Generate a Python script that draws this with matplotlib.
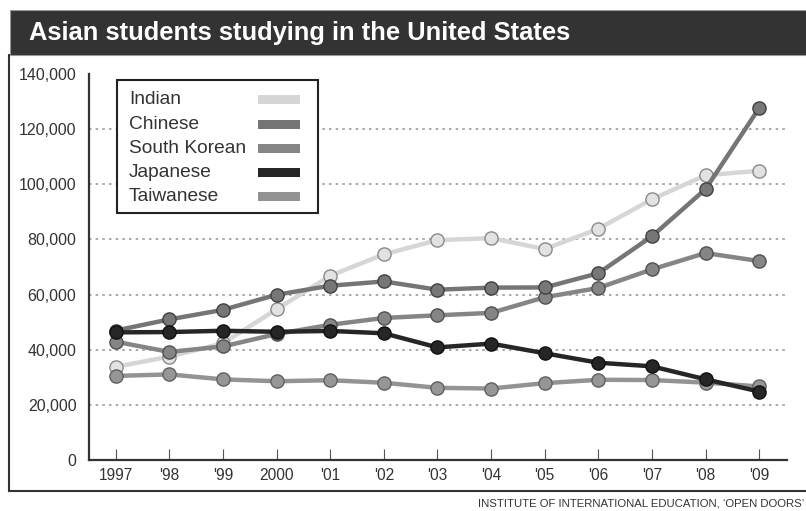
import matplotlib
matplotlib.use("Agg")
import matplotlib.pyplot as plt
from matplotlib.patches import Rectangle
from matplotlib.lines import Line2D

plt.rcParams["font.family"] = ["Liberation Sans", "DejaVu Sans"]

YEARS = ["1997", "'98", "'99", "2000", "'01", "'02", "'03", "'04", "'05", "'06", "'07", "'08", "'09"]

INDIAN = [33818, 37482, 42337, 54664, 66836, 74603, 79736, 80466, 76503, 83833, 94563, 103260, 104897]
CHINESE = [46958, 51001, 54466, 59939, 63211, 64757, 61765, 62523, 62582, 67723, 81127, 98235, 127628]
SOUTH_KOREAN = [42890, 39199, 41191, 45685, 49046, 51519, 52484, 53358, 59022, 62392, 69124, 75065, 72153]
JAPANESE = [46292, 46406, 46872, 46497, 46810, 45960, 40835, 42215, 38712, 35282, 33974, 29264, 24842]
TAIWANESE = [30487, 31043, 29234, 28566, 28930, 28017, 26178, 25914, 27876, 29094, 29001, 28065, 26685]

LABELS = ["Indian", "Chinese", "South Korean", "Japanese", "Taiwanese"]
Y_TICKS = [0, 20000, 40000, 60000, 80000, 100000, 120000, 140000]

# line colour, marker face, marker edge
STYLES = {
    "Indian": ("#d6d6d6", "#e2e2e2", "#8a8a8a"),
    "Chinese": ("#757575", "#777777", "#404040"),
    "South Korean": ("#858585", "#858585", "#505050"),
    "Japanese": ("#262626", "#262626", "#111111"),
    "Taiwanese": ("#939393", "#969696", "#606060"),
}

W, H = 806, 511
fig = plt.figure(figsize=(W / 100, H / 100), dpi=100)


def fx(px):
    return px / W


def fy(py):
    return 1 - py / H


# title bar
fig.patches.append(Rectangle((fx(10), fy(55)), 1, 45 / H, transform=fig.transFigure,
                             facecolor="#333333", edgecolor="#999999", lw=0.8))
fig.text(fx(29), fy(33), "Asian students studying in the United States",
         color="white", fontsize=18.4, fontweight="bold", va="center", ha="left")

# outer frame
fig.add_artist(Line2D([fx(9), fx(9)], [fy(55), fy(491)], transform=fig.transFigure,
                      color="#333333", lw=1.5))
fig.add_artist(Line2D([fx(9), 1], [fy(491), fy(491)], transform=fig.transFigure,
                      color="#333333", lw=1.5))

ax = fig.add_axes([fx(89), fy(460), 698 / W, 386 / H])
x = list(range(len(YEARS)))

series = {
    "Indian": INDIAN,
    "Taiwanese": TAIWANESE,
    "South Korean": SOUTH_KOREAN,
    "Chinese": CHINESE,
    "Japanese": JAPANESE,
}
for z, (name, vals) in enumerate(series.items()):
    lc, fc, ec = STYLES[name]
    ax.plot(x, vals, color=lc, lw=3.2, zorder=3 + z,
            marker="o", markersize=9.5, markerfacecolor=fc,
            markeredgecolor=ec, markeredgewidth=1.0)

ax.set_xlim(-0.5, 12.52)
ax.set_ylim(0, 140000)
ax.set_yticks(Y_TICKS)
ax.set_yticklabels([f"{v:,}" for v in Y_TICKS])
ax.set_xticks(x)
ax.set_xticklabels(YEARS)

for v in Y_TICKS[1:-1]:
    ax.axhline(v, color="#9a9a9a", lw=1.2, ls=(0, (1.5, 2.5)), zorder=1)

for s in ["top", "right"]:
    ax.spines[s].set_visible(False)
for s in ["left", "bottom"]:
    ax.spines[s].set_linewidth(1.6)
    ax.spines[s].set_color("#333333")

ax.tick_params(axis="y", length=0, pad=9, labelsize=11.5, labelcolor="#333333")
ax.tick_params(axis="x", direction="in", length=8, width=0.8, color="#555555",
               pad=6, labelsize=11.2, labelcolor="#333333")

# legend box: labels on the left, colour swatches on the right
fig.patches.append(Rectangle((fx(117), fy(213)), fx(318) - fx(117), fy(80) - fy(213),
                             transform=fig.transFigure, facecolor="white",
                             edgecolor="#222222", lw=1.5, zorder=20))
for i, name in enumerate(LABELS):
    yc = 100 + i * 24.2
    fig.text(fx(129), fy(yc), name, fontsize=13.8, color="#333333",
             va="center", ha="left", zorder=21)
    fig.patches.append(Rectangle((fx(258), fy(yc + 4.5)), fx(300) - fx(258), 9 / H,
                                 transform=fig.transFigure, facecolor=STYLES[name][0],
                                 edgecolor="none", zorder=21))

fig.text(fx(804), fy(504), "INSTITUTE OF INTERNATIONAL EDUCATION, \u2018OPEN DOORS\u2019",
         fontsize=8.2, color="#333333", ha="right", va="center",
         family=["Liberation Sans Narrow", "Liberation Sans", "DejaVu Sans"])

fig.savefig("out.png", dpi=100)
